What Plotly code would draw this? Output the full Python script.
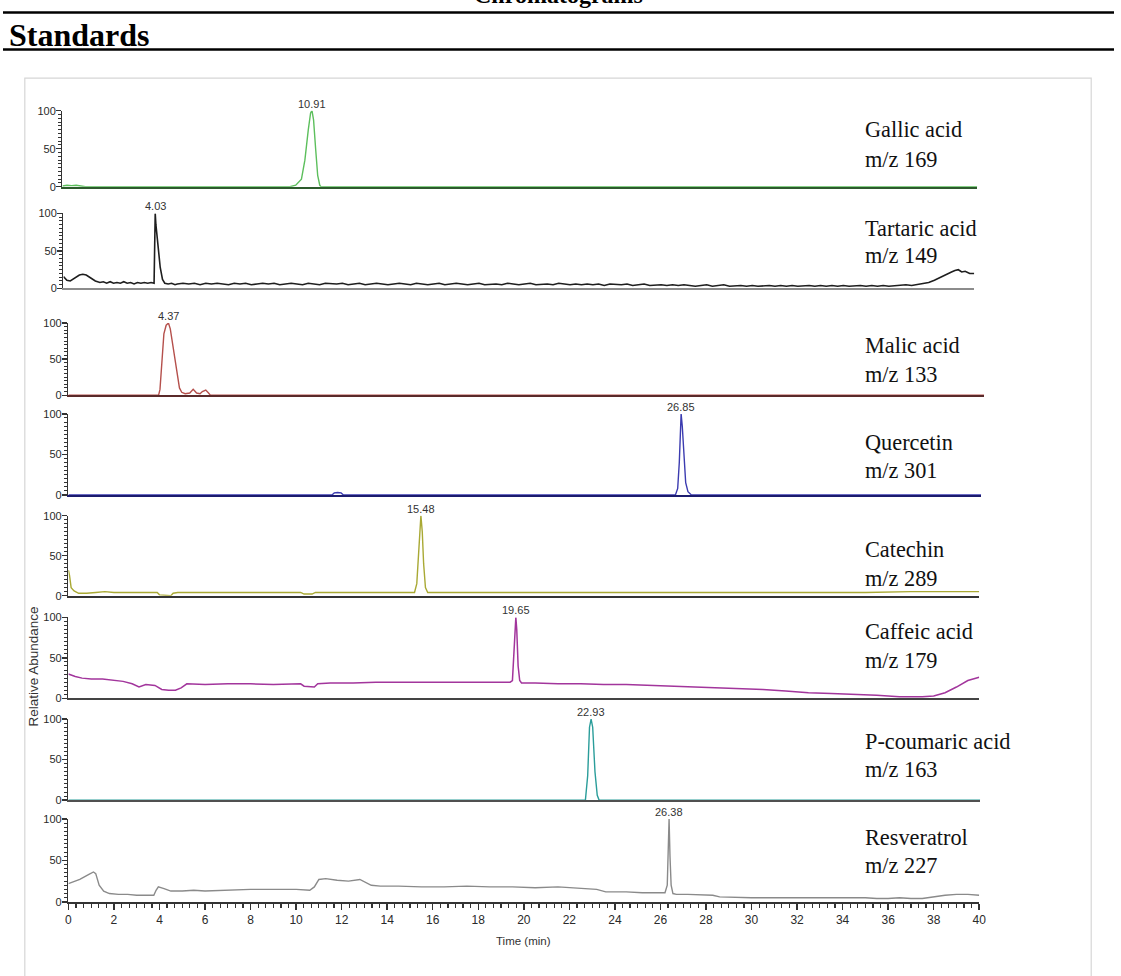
import plotly.graph_objects as go

# ---------------- data ----------------
compounds = ["Gallic acid", "Tartaric acid", "Malic acid", "Quercetin",
             "Catechin", "Caffeic acid", "P-coumaric acid", "Resveratrol"]
mz_labels = ["m/z 169", "m/z 149", "m/z 133", "m/z 301",
             "m/z 289", "m/z 179", "m/z 163", "m/z 227"]
peak_rt = [10.91, 4.03, 4.37, 26.85, 15.48, 19.65, 22.93, 26.38]
peak_labels = ["10.91", "4.03", "4.37", "26.85", "15.48", "19.65", "22.93", "26.38"]

x_ticks = [0, 2, 4, 6, 8, 10, 12, 14, 16, 18, 20, 22, 24, 26, 28, 30, 32, 34, 36, 38, 40]
y_ticks = [0, 50, 100]

# (time in min, relative abundance %)
gallic = [(0, 1), (0.2, 2), (0.4, 1.5), (0.6, 2), (0.8, 1), (1.0, 0), (9.95, 0), (10.2, 2),
          (10.45, 10), (10.6, 35), (10.75, 75), (10.85, 97), (10.91, 100), (10.98, 88),
          (11.07, 50), (11.16, 15), (11.25, 2), (11.3, 0), (40, 0)]

tartaric = [(0, 16), (0.15, 11), (0.3, 10), (0.5, 14), (0.7, 18), (0.85, 19), (1.0, 18),
            (1.2, 14), (1.4, 10), (1.6, 8), (1.75, 9), (1.9, 7), (2.05, 9), (2.2, 7),
            (2.35, 8), (2.5, 7), (2.65, 9), (2.8, 7), (2.95, 8), (3.1, 6), (3.25, 8), (3.4, 7),
            (3.55, 8), (3.7, 7), (3.85, 8), (3.98, 7), (4.0, 55), (4.03, 100), (4.06, 85),
            (4.15, 55), (4.25, 28), (4.35, 12), (4.45, 7), (4.6, 6), (4.75, 7), (4.9, 5),
            (5.0, 6), (5.25, 7), (5.5, 6), (5.75, 7), (6.0, 5), (6.25, 7), (6.5, 6), (6.75, 7),
            (7.0, 6), (7.25, 5), (7.5, 7), (7.75, 6), (8.0, 7), (8.25, 5), (8.5, 6), (8.75, 7),
            (9.0, 6), (9.25, 7), (9.5, 5), (9.75, 6), (10.0, 7), (10.25, 6), (10.5, 5),
            (10.75, 7), (11.0, 6), (11.25, 5), (11.5, 7), (11.75, 6), (12.0, 6), (12.25, 7),
            (12.5, 5), (12.75, 6), (13.0, 7), (13.25, 5), (13.5, 6), (13.75, 7), (14.0, 6),
            (14.25, 5), (14.5, 6), (14.75, 7), (15.0, 6), (15.25, 5), (15.5, 7), (15.75, 6),
            (16.0, 5), (16.25, 6), (16.5, 7), (16.75, 5), (17.0, 6), (17.25, 7), (17.5, 6),
            (17.75, 5), (18.0, 6), (18.25, 7), (18.5, 5), (18.75, 6), (19.0, 6), (19.25, 5),
            (19.5, 7), (19.75, 6), (20.0, 5), (20.25, 6), (20.5, 7), (20.75, 5), (21.0, 6),
            (21.25, 6), (21.5, 5), (21.75, 7), (22.0, 6), (22.25, 5), (22.5, 6), (22.75, 5),
            (23.0, 6), (23.25, 5), (23.5, 6), (23.75, 4), (24.0, 6), (24.25, 5), (24.5, 5),
            (24.75, 6), (25.0, 4), (25.25, 5), (25.5, 6), (25.75, 4), (26.0, 5), (26.25, 5),
            (26.5, 4), (26.75, 5), (27.0, 4), (27.25, 5), (27.5, 4), (27.75, 3), (28.0, 4),
            (28.25, 5), (28.5, 3), (28.75, 4), (29.0, 5), (29.25, 3), (29.5, 4), (29.75, 4),
            (30.0, 3), (30.25, 4), (30.5, 3), (30.75, 4), (31.0, 4), (31.25, 3), (31.5, 4),
            (31.75, 3), (32.0, 4), (32.25, 3), (32.5, 4), (32.75, 4), (33.0, 3), (33.25, 4),
            (33.5, 3), (33.75, 4), (34.0, 3), (34.25, 4), (34.5, 3), (34.75, 4), (35.0, 4),
            (35.25, 3), (35.5, 4), (35.75, 3), (36.0, 4), (36.25, 3), (36.5, 4), (36.75, 4),
            (37.0, 5), (37.25, 4), (37.5, 5), (37.75, 6), (38.0, 8), (38.25, 11), (38.5, 15),
            (38.75, 19), (39.0, 22), (39.15, 24), (39.3, 25), (39.45, 22), (39.6, 23),
            (39.8, 20), (40, 20)]

malic = [(0, 0), (3.94, 0), (4.0, 8), (4.08, 45), (4.17, 85), (4.27, 97), (4.37, 100),
         (4.45, 92), (4.55, 70), (4.65, 48), (4.75, 25), (4.85, 10), (4.95, 4), (5.1, 2),
         (5.3, 3), (5.45, 8), (5.6, 3), (5.75, 2), (5.85, 5), (6.0, 7), (6.12, 3), (6.2, 0),
         (40, 0)]

quercetin = [(0, 0), (11.55, 0), (11.65, 2.5), (11.8, 3), (11.95, 2.5), (12.05, 0), (26.6, 0),
             (26.7, 8), (26.77, 40), (26.82, 90), (26.85, 100), (26.9, 85), (26.97, 45),
             (27.05, 15), (27.15, 4), (27.3, 0), (40, 0)]

catechin = [(0, 32), (0.05, 25), (0.12, 10), (0.25, 6), (0.45, 3), (0.8, 3), (1.2, 4), (1.6, 5),
            (2.0, 4), (2.5, 4), (3.0, 4), (3.5, 4), (3.9, 4), (4.0, 1), (4.5, 0), (4.6, 3),
            (4.8, 4), (6, 4), (7, 4), (8, 4), (9, 4), (10.2, 4), (10.35, 2), (10.7, 2),
            (10.85, 4), (12, 4), (13, 4), (14, 4), (15.2, 4), (15.3, 15), (15.38, 60),
            (15.44, 95), (15.48, 100), (15.54, 80), (15.6, 40), (15.68, 10), (15.78, 4),
            (17, 4), (19, 4), (21, 4), (23, 4), (25, 4), (27, 4), (29, 4), (31, 4), (33, 4),
            (35, 4), (37, 5), (39, 5), (40, 5)]

caffeic = [(0, 30), (0.3, 27), (0.6, 25), (1.0, 24), (1.5, 24), (2.0, 22), (2.4, 21), (2.8, 18),
           (3.1, 14), (3.4, 17), (3.8, 16), (4.1, 11), (4.4, 10), (4.7, 10), (4.95, 13),
           (5.2, 18), (6, 17), (7, 18), (8, 18), (9, 17), (10.2, 18), (10.35, 15), (10.8, 14),
           (10.95, 18), (11.5, 19), (12.5, 19), (13.5, 20), (14.5, 20), (15.5, 20), (16.5, 20),
           (17.5, 20), (18.5, 20), (19.4, 20), (19.5, 22), (19.57, 60), (19.62, 95),
           (19.65, 100), (19.69, 85), (19.75, 40), (19.82, 22), (19.9, 19), (20.5, 19),
           (21.5, 18), (22.5, 18), (23.5, 17), (24.5, 17), (25.5, 16), (26.5, 15), (27.5, 14),
           (28.5, 13), (29.5, 12), (30.5, 11), (31.5, 9), (32.5, 7), (33.5, 6), (34.5, 5),
           (35.5, 4), (36.5, 2), (37.5, 2), (38.0, 3), (38.5, 7), (39.0, 14), (39.5, 22),
           (40, 26)]

pcoumaric = [(0, 0), (22.68, 0), (22.78, 30), (22.86, 90), (22.93, 100), (23.0, 90),
             (23.1, 35), (23.2, 6), (23.28, 0), (40, 0)]

resveratrol = [(0, 22), (0.5, 27), (0.9, 33), (1.1, 36), (1.2, 34), (1.35, 20), (1.55, 13),
               (1.8, 10), (2.2, 9), (2.6, 9), (3.0, 8), (3.4, 8), (3.75, 8), (3.85, 14),
               (3.95, 18), (4.2, 16), (4.5, 13), (5.0, 13), (5.5, 14), (6.0, 13), (7.0, 14),
               (8.0, 15), (9.0, 15), (10.0, 15), (10.6, 14), (10.8, 18), (11.0, 27), (11.3, 28),
               (11.8, 26), (12.3, 25), (12.8, 27), (13.0, 24), (13.3, 20), (13.7, 19),
               (14.5, 19), (15.5, 18), (16.5, 18), (17.5, 19), (18.5, 18), (19.5, 18),
               (20.5, 17), (21.5, 18), (22.5, 16), (23.2, 15), (23.6, 12), (24.5, 12),
               (25.2, 11), (26.2, 11), (26.3, 20), (26.35, 80), (26.38, 100), (26.42, 55),
               (26.47, 20), (26.55, 10), (26.7, 9), (27.2, 9), (27.8, 8), (28.3, 8), (28.6, 6),
               (30, 5), (32, 5), (34, 5), (35, 5), (35.5, 4), (36, 4), (36.5, 5), (37, 4),
               (37.5, 4), (38, 6), (38.5, 8), (39, 9), (39.5, 9), (40, 8)]

series = [gallic, tartaric, malic, quercetin, catechin, caffeic, pcoumaric, resveratrol]

# ---------------- styling / layout ----------------
W, H = 1121, 976
trace_colors = ["#5cbf5c", "#1e1e1e", "#b5504c", "#3b3bb0", "#a9a934", "#a2359c", "#2a9d9a", "#8a8a8a"]
trace_widths = [1.4, 1.6, 1.4, 1.4, 1.4, 1.5, 1.4, 1.4]
base_colors = ["#2d5a2d", "#8c8c8c", "#5a2a2a", "#1c1c6e", "#333333", "#444444", "#505050", "#333333"]
# pixel geometry of each panel: (x_left, x_right, y_top(=100), y_bottom(=0))
geom = [(60, 983, 106, 183), (61, 980, 210, 286), (66, 990, 321, 394), (66, 987, 413, 495),
        (66, 985, 516, 597), (66, 985, 619, 701), (66, 986, 722, 804), (66, 985, 823, 907)]
label_y = [(125, 155), (225, 253), (344, 373), (442, 470), (550, 580), (633, 663), (745, 773), (842, 870)]


def fx(px):
    return px / W


def fy(py):
    return 1 - py / H


fig = go.Figure()
layout = dict(width=W, height=H, margin=dict(l=0, r=0, t=0, b=0),
              paper_bgcolor="white", plot_bgcolor="rgba(0,0,0,0)", showlegend=False)
annotations = []
tick_font = dict(family="Arial, Liberation Sans, sans-serif", size=11, color="#2a2a2a")

for k in range(8):
    n = k + 1
    xs = "" if n == 1 else str(n)
    x0, x1, yt, yb = geom[k]
    pts = series[k]
    fig.add_trace(go.Scatter(x=[p[0] for p in pts], y=[p[1] for p in pts], mode="lines",
                             line=dict(color=trace_colors[k], width=trace_widths[k]),
                             xaxis="x" + xs, yaxis="y" + xs, hoverinfo="skip"))
    last = (n == 8)
    xa = dict(domain=[fx(x0), fx(x1)], range=[0, 40], anchor="y" + xs, showgrid=False,
              zeroline=False, showline=True, linecolor=base_colors[k], linewidth=2,
              fixedrange=True)
    if last:
        xa.update(tickmode="array", tickvals=x_ticks, ticks="outside", ticklen=6, tickwidth=1.5,
                  tickcolor="#333333", showticklabels=True,
                  tickfont=dict(family="Arial, Liberation Sans, sans-serif", size=12,
                                color="#2a2a2a"),
                  minor=dict(dtick=1/3, tick0=0, ticks="outside", ticklen=4, tickwidth=1.2,
                             tickcolor="#333333"))
    else:
        xa.update(ticks="", showticklabels=False)
    ya = dict(domain=[fy(yb), fy(yt)], range=[0, 100], anchor="x" + xs, showgrid=False,
              zeroline=False, showline=True, linecolor="#333333", linewidth=1.5,
              tickmode="array", tickvals=y_ticks, ticks="outside", ticklen=5, tickwidth=1.3,
              tickcolor="#333333", tickfont=tick_font, ticklabelstandoff=-2,
              minor=dict(dtick=5, tick0=0, ticks="outside", ticklen=3, tickwidth=1,
                         tickcolor="#333333"), fixedrange=True)
    layout["xaxis" + xs] = xa
    layout["yaxis" + xs] = ya

    # retention-time label above the peak
    annotations.append(dict(x=peak_rt[k], y=100, xref="x" + xs, yref="y" + xs,
                            text=peak_labels[k], showarrow=False, yanchor="bottom",
                            xanchor="center", yshift=-1,
                            font=dict(family="Arial, Liberation Sans, sans-serif",
                                      size=11, color="#333333")))
    # compound name + m/z
    ly1, ly2 = label_y[k]
    for txt, ly in ((compounds[k], ly1), (mz_labels[k], ly2)):
        annotations.append(dict(x=fx(868), y=fy(ly), xref="paper", yref="paper",
                                text=txt, showarrow=False, xanchor="left", yanchor="middle",
                                font=dict(family="Liberation Serif, Times New Roman, serif",
                                          size=22.3, color="#111111")))

annotations.append(dict(x=fx(525), y=fy(947), xref="paper", yref="paper", text="Time (min)",
                        showarrow=False, xanchor="center", yanchor="middle",
                        font=dict(family="Arial, Liberation Sans, sans-serif", size=11.5,
                                  color="#333333")))
annotations.append(dict(x=fx(31), y=fy(669), xref="paper", yref="paper",
                        text="Relative Abundance", showarrow=False, textangle=-90,
                        xanchor="center", yanchor="middle",
                        font=dict(family="Arial, Liberation Sans, sans-serif",
                                  size=13.5, color="#333333")))
annotations.append(dict(x=fx(4), y=fy(29), xref="paper", yref="paper", text="<b>Standards</b>",
                        showarrow=False, xanchor="left", yanchor="middle",
                        font=dict(family="Liberation Serif, Times New Roman, serif", size=32,
                                  color="black")))
annotations.append(dict(x=fx(560), y=fy(4), xref="paper", yref="paper",
                        text="<b>Chromatograms</b>", showarrow=False, xanchor="center",
                        yanchor="bottom",
                        font=dict(family="Liberation Serif, Times New Roman, serif", size=24,
                                  color="black")))
layout["annotations"] = annotations

layout["shapes"] = [
    dict(type="line", xref="paper", yref="paper", x0=0, x1=1, y0=fy(6.5), y1=fy(6.5),
         line=dict(color="black", width=2.5)),
    dict(type="line", xref="paper", yref="paper", x0=0, x1=1, y0=fy(44), y1=fy(44),
         line=dict(color="black", width=2.5)),
    dict(type="rect", xref="paper", yref="paper", x0=fx(22), x1=fx(1098), y0=fy(990),
         y1=fy(73), line=dict(color="#d6d6d6", width=1.2), layer="below"),
]

fig.update_layout(**layout)
fig.write_html("out.html", config={"displayModeBar": False, "staticPlot": True},
               post_script="document.body.style.margin='0px';"
                           "document.documentElement.style.overflow='hidden';")
